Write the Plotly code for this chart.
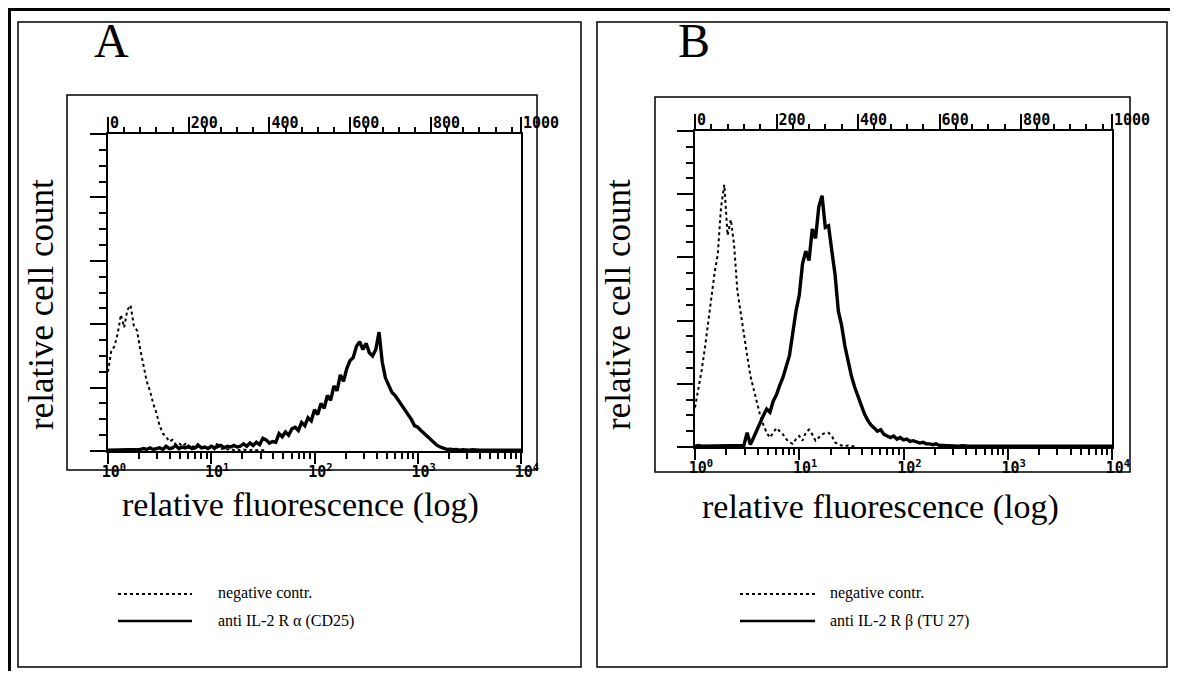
import plotly.graph_objects as go

# the page adds an 8px body margin, so the figure is sized to fit inside
# a 1178x679 window and all positions below are given in window pixels
WIN_W, WIN_H = 1178, 679
PAGE_PAD = 8
W, H = WIN_W - 2 * PAGE_PAD, WIN_H - 2 * PAGE_PAD

STEP = 8             # channels per histogram bin
CH_PER_DECADE = 256  # 1024-channel log amplifier, 4 decades

# panel A - anti IL-2 R alpha (CD25)
a_negative = [
    5.0, 6.3, 6.6, 7.4, 8.6, 7.8, 8.9, 9.2, 7.9, 7.6,
    6.4, 5.5, 4.4, 3.8, 3.0, 2.4, 1.6, 1.1, 0.9, 0.6,
    0.7, 0.4, 0.5, 0.3, 0.45, 0.2, 0.35, 0.2, 0.5, 0.15,
    0.25, 0.1, 0.3, 0.1, 0.55, 0.1, 0.2, 0.1, 0.15, 0.05,
    0.1, 0.05, 0.1, 0.05, 0.05, 0.1, 0.05, 0.05, 0.05, 0.05,
]
a_cd25 = [
    0.05, 0.05, 0.05, 0.05, 0.1, 0.05, 0.05, 0.1, 0.05, 0.1,
    0.1, 0.15, 0.1, 0.2, 0.1, 0.15, 0.2, 0.1, 0.3, 0.15,
    0.2, 0.35, 0.15, 0.25, 0.2, 0.3, 0.15, 0.2, 0.35, 0.2,
    0.25, 0.15, 0.3, 0.2, 0.25, 0.35, 0.2, 0.3, 0.25, 0.35,
    0.25, 0.3, 0.45, 0.3, 0.5, 0.35, 0.55, 0.4, 0.8, 0.7,
    0.5, 0.6, 0.55, 1.1, 0.9, 1.2, 1.0, 1.4, 1.5, 1.3,
    1.8, 1.6, 2.1, 1.9, 2.6, 2.3, 3.0, 2.7, 3.5, 3.2,
    4.1, 3.8, 4.8, 4.4, 5.2, 5.7, 5.9, 6.6, 6.9, 6.4,
    6.8, 6.2, 6.0, 6.4, 7.5, 5.6, 4.6, 4.1, 3.7, 3.5,
    3.2, 2.9, 2.6, 2.3, 2.0, 1.6, 1.5, 1.3, 1.1, 0.9,
    0.7, 0.5, 0.35, 0.25, 0.15, 0.1, 0.12, 0.08, 0.1, 0.05,
    0.08, 0.05, 0.05, 0.08, 0.05, 0.05, 0.05, 0.05, 0.05, 0.05,
    0.05, 0.05, 0.05, 0.05, 0.05, 0.05, 0.05, 0.05, 0.05,
]

# panel B - anti IL-2 R beta (TU 27)
b_negative = [
    2.5, 3.6, 4.8, 6.2, 7.8, 9.6, 11.0, 12.2, 15.2, 16.6,
    13.4, 14.4, 12.8, 9.9, 8.6, 7.4, 5.8, 4.5, 3.6, 2.8,
    2.0, 1.4, 0.9, 0.6, 0.9, 1.2, 1.0, 0.8, 0.5, 0.3,
    0.2, 0.5, 0.7, 0.4, 0.9, 1.1, 0.8, 0.4, 0.6, 0.8,
    0.9, 0.9, 0.7, 0.3, 0.15, 0.1, 0.05, 0.1, 0.05, 0.05,
]
b_tu27 = [
    0.05, 0.1, 0.05, 0.05, 0.1, 0.05, 0.05, 0.1, 0.05, 0.05,
    0.1, 0.05, 0.1, 0.05, 0.08, 0.1, 0.9, 0.15, 0.6, 1.1,
    1.5, 2.0, 2.4, 2.2, 2.9, 3.3, 3.9, 4.4, 5.1, 5.8,
    7.2, 8.6, 9.6, 11.6, 12.4, 11.8, 13.8, 13.2, 15.2, 15.9,
    13.9, 14.0, 12.4, 10.9, 8.6, 7.7, 6.4, 5.4, 4.5, 3.8,
    3.2, 2.6, 2.1, 1.7, 1.4, 1.2, 1.0, 1.1, 0.8, 0.7,
    0.6, 0.7, 0.5, 0.6, 0.45, 0.5, 0.35, 0.4, 0.3, 0.25,
    0.3, 0.2, 0.2, 0.15, 0.2, 0.1, 0.1, 0.08, 0.1, 0.05,
    0.05, 0.05, 0.08, 0.05, 0.05, 0.05, 0.05, 0.05, 0.05, 0.05,
    0.05, 0.05, 0.05, 0.05, 0.05, 0.05, 0.05, 0.05, 0.05, 0.05,
    0.05, 0.05, 0.05, 0.05, 0.05, 0.05, 0.05, 0.05, 0.05, 0.05,
    0.05, 0.05, 0.05, 0.05, 0.05, 0.05, 0.05, 0.05, 0.05, 0.05,
    0.05, 0.05, 0.05, 0.05, 0.05, 0.05, 0.05, 0.05, 0.05,
]

decade_vals = [1, 10, 100, 1000, 10000]
decade_text = ["10<sup>0</sup>", "10<sup>1</sup>", "10<sup>2</sup>",
               "10<sup>3</sup>", "10<sup>4</sup>"]
channel_vals = [0, 200, 400, 600, 800, 1023]
channel_text = ["0", "200", "400", "600", "800", "1000"]

panel_letters = ["A", "B"]
legend_neg = "negative contr."
legend_pos = ["anti IL-2 R α (CD25)", "anti IL-2 R β (TU 27)"]
y_title = "relative cell count"
x_title = "relative fluorescence (log)"

SERIF = "Liberation Serif"
MONO = "DejaVu Sans Mono"


def px(x):
    return (x - PAGE_PAD) / W


def py(y):
    return 1 - (y - PAGE_PAD) / H


def fluor(values):
    return [10 ** (STEP * i / CH_PER_DECADE) for i in range(len(values))]


fig = go.Figure()

panels = [
    dict(neg=a_negative, pos=a_cd25, x="x", x_top="x2", y="y"),
    dict(neg=b_negative, pos=b_tu27, x="x3", x_top="x4", y="y2"),
]
for p in panels:
    fig.add_trace(go.Scatter(x=fluor(p["neg"]), y=p["neg"], xaxis=p["x"], yaxis=p["y"],
                             mode="lines", line=dict(color="black", width=2, dash="dot"),
                             showlegend=False, hoverinfo="skip"))
    fig.add_trace(go.Scatter(x=fluor(p["pos"]), y=p["pos"], xaxis=p["x"], yaxis=p["y"],
                             mode="lines", line=dict(color="black", width=3.4),
                             showlegend=False, hoverinfo="skip"))
    # keeps the channel axis alive on top
    fig.add_trace(go.Scatter(x=[0, 1023], y=[0, 0], xaxis=p["x_top"], yaxis=p["y"],
                             mode="lines", opacity=0, showlegend=False, hoverinfo="skip"))

tickfont = dict(family=MONO, size=15, color="black", weight="bold")


def log_axis(domain, anchor):
    return dict(domain=domain, anchor=anchor, type="log", range=[0, 4],
                tickmode="array", tickvals=decade_vals, ticktext=decade_text,
                ticks="outside", ticklen=11, tickwidth=2, tickcolor="black",
                minor=dict(ticks="outside", dtick="D1", ticklen=6, tickwidth=1.5,
                           tickcolor="black", showgrid=False),
                ticklabelstandoff=-5, ticklabelshift=6,
                showline=True, linewidth=2, linecolor="black", automargin=False,
                showgrid=False, zeroline=False, tickfont=tickfont, fixedrange=True)


def channel_axis(over, anchor):
    return dict(overlaying=over, anchor=anchor, side="top", range=[0, 1023],
                tickmode="array", tickvals=channel_vals, ticktext=channel_text,
                ticks="outside", ticklen=15, tickwidth=2, tickcolor="black",
                minor=dict(ticks="outside", dtick=40, tick0=0, ticklen=5, tickwidth=1.5,
                           tickcolor="black", showgrid=False),
                ticklabelposition="outside right", ticklabelstandoff=-2,
                showline=True, linewidth=2, linecolor="black", automargin=False,
                showgrid=False, zeroline=False, tickfont=tickfont, fixedrange=True)


def count_axis(domain, anchor):
    return dict(domain=domain, anchor=anchor, range=[0, 20],
                tickmode="linear", tick0=0, dtick=4, showticklabels=False,
                ticks="outside", ticklen=16, tickwidth=2, tickcolor="black",
                minor=dict(ticks="outside", dtick=1, ticklen=7, tickwidth=1.5,
                           tickcolor="black", showgrid=False),
                showline=True, linewidth=2, linecolor="black", mirror=True,
                automargin=False, showgrid=False, zeroline=False, fixedrange=True)


fig.update_layout(
    width=W, height=H,
    margin=dict(l=0, r=0, t=0, b=0, autoexpand=False),
    paper_bgcolor="white", plot_bgcolor="white",
    showlegend=False,
    xaxis=log_axis([px(108), px(521)], "y"),
    xaxis2=channel_axis("x", "y"),
    yaxis=count_axis([py(451), py(134)], "x"),
    xaxis3=log_axis([px(695), px(1112)], "y2"),
    xaxis4=channel_axis("x3", "y2"),
    yaxis2=count_axis([py(447), py(131)], "x3"),
)

# frames: outer sheet, two panels, two inner graph boxes
frames = [
    (9.5, 9.5, 1190, 700, 3),
    (18, 22, 581, 667, 1.5),
    (597, 22, 1167, 667, 1.5),
    (67, 95, 537, 470, 1.5),
    (655, 97, 1130, 472, 1.5),
]
for x0, y0, x1, y1, lw in frames:
    fig.add_shape(type="rect", xref="paper", yref="paper",
                  x0=px(x0), y0=py(y0), x1=px(x1), y1=py(y1),
                  line=dict(color="black", width=lw), layer="below")

letter_pos = [(111, 40), (694, 40)]
ytitle_pos = [(41, 305), (618, 305)]
xtitle_pos = [(300, 505), (880, 507)]
legend_left = [(118, 192, 216), (740, 815, 828)]


def note(text, x, y, size, **kw):
    fig.add_annotation(text=text, x=px(x), y=py(y), xref="paper", yref="paper",
                       showarrow=False, yanchor="middle",
                       font=dict(family=SERIF, size=size, color="black"), **kw)


for k in range(2):
    note(panel_letters[k], *letter_pos[k], 48, xanchor="center")
    note(y_title, *ytitle_pos[k], 35, xanchor="center", textangle=-90)
    note(x_title, *xtitle_pos[k], 34, xanchor="center")

    s0, s1, tx = legend_left[k]
    fig.add_shape(type="line", xref="paper", yref="paper",
                  x0=px(s0), x1=px(s1), y0=py(594), y1=py(594),
                  line=dict(color="black", width=2, dash="dot"))
    fig.add_shape(type="line", xref="paper", yref="paper",
                  x0=px(s0), x1=px(s1), y0=py(621), y1=py(621),
                  line=dict(color="black", width=2.6))
    note(legend_neg, tx, 593, 16, xanchor="left")
    note(legend_pos[k], tx, 621, 16, xanchor="left")

fig.write_html("out.html")
